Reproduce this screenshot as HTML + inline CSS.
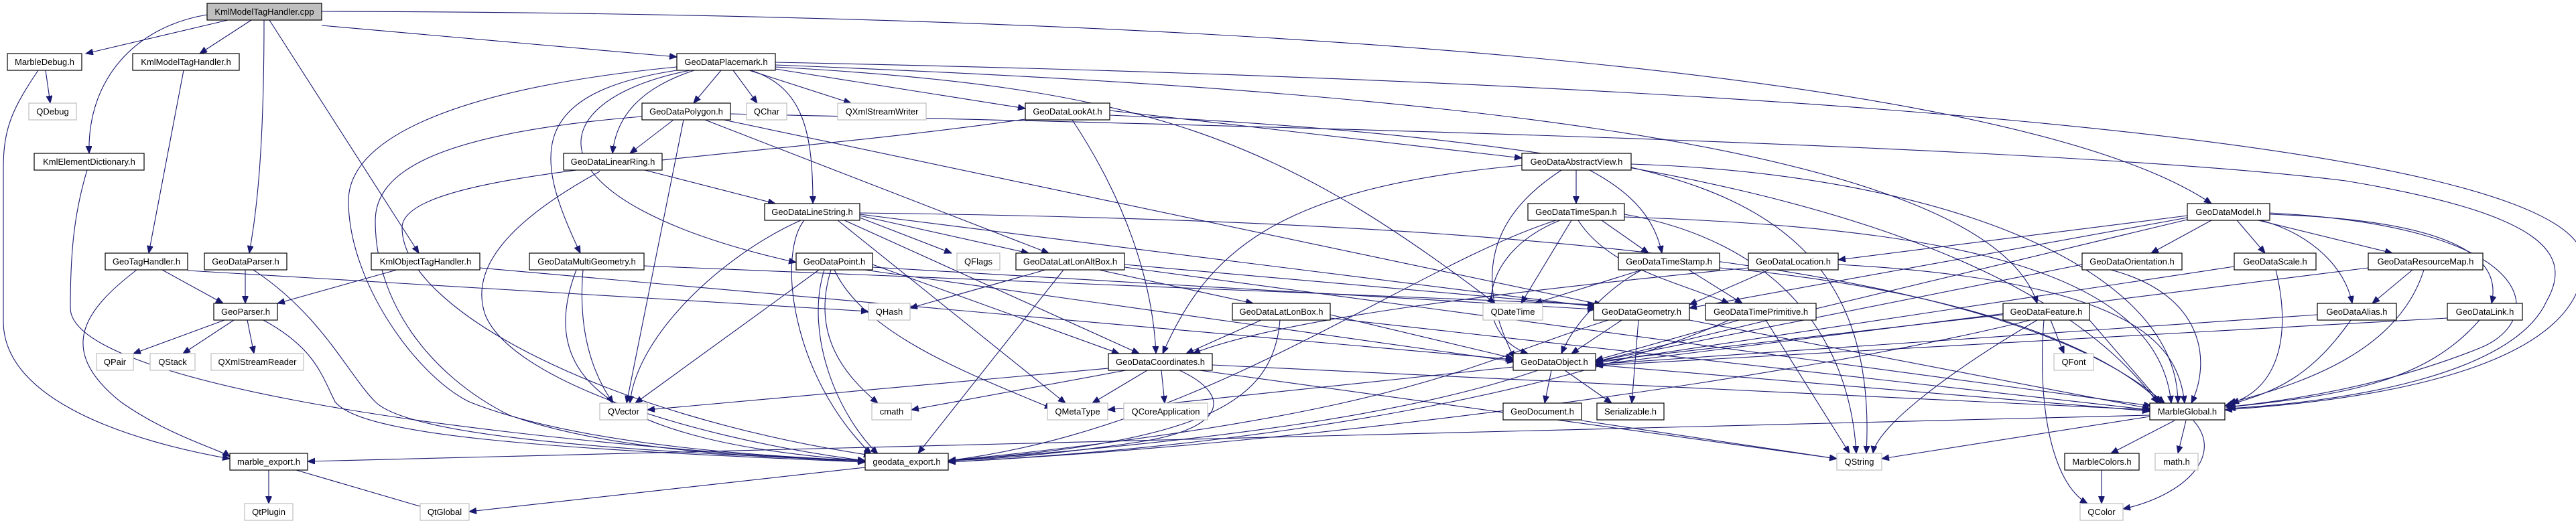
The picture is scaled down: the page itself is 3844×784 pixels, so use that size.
<!DOCTYPE html>
<html><head><meta charset="utf-8"><style>
html,body{margin:0;padding:0;background:#fff;}
svg{display:block;}
text{font-family:"Liberation Sans",sans-serif;font-size:13px;fill:#000;text-anchor:middle;}
.e{fill:none;stroke:#191970;stroke-width:1.1;marker-end:url(#a);}
.n{fill:#fff;stroke:#000;stroke-width:1.2;}
.g{fill:#fff;stroke:#bfbfbf;stroke-width:1.2;}
</style></head><body>
<svg width="3844" height="784" viewBox="0 0 3844 784" xmlns="http://www.w3.org/2000/svg">
<defs><marker id="a" markerUnits="userSpaceOnUse" markerWidth="12" markerHeight="10" refX="11" refY="4.5" orient="auto"><path d="M0,0 L11,4.5 L0,9 z" fill="#191970" stroke="#191970"/></marker></defs>
<g>
<path class="e" d="M340,30 L128,80"/>
<path class="e" d="M309,22 C200,40 130,120 133,229"/>
<path class="e" d="M375,30 L298,80"/>
<path class="e" d="M394,30 C394,250 380,330 372,378"/>
<path class="e" d="M402,30 L625,378"/>
<path class="e" d="M480,38 L1010,85"/>
<path class="e" d="M480,17 C1800,20 3000,100 3300,304"/>
<path class="e" d="M68,105 L75,154"/>
<path class="e" d="M57,105 C20,160 5,190 5,250 L5,480 C5,600 200,660 343,685"/>
<path class="e" d="M274,105 L222,378"/>
<path class="e" d="M130,254 C110,320 105,380 105,460 C105,560 600,650 1291,690"/>
<path class="e" d="M204,403 C130,460 80,520 180,600 C250,650 330,672 343,682"/>
<path class="e" d="M242,403 L333,453"/>
<path class="e" d="M280,404 L1296,465"/>
<path class="e" d="M366,403 L366,453"/>
<path class="e" d="M378,403 C480,470 520,560 560,600 C600,640 800,670 1291,688"/>
<path class="e" d="M592,403 L414,453"/>
<path class="e" d="M716,400 L2258,537"/>
<path class="e" d="M335,478 L199,528"/>
<path class="e" d="M349,478 L273,528"/>
<path class="e" d="M369,478 L379,528"/>
<path class="e" d="M393,478 C470,520 480,560 500,600 C540,650 800,670 1291,690"/>
<path class="e" d="M401,702 L401,752"/>
<path class="e" d="M442,702 L640,760"/>
<path class="e" d="M1291,698 L700,764"/>
<path class="e" d="M3208,620 L459,689"/>
<path class="e" d="M1076,105 L1035,154"/>
<path class="e" d="M1094,105 L1130,154"/>
<path class="e" d="M1118,105 L1270,154"/>
<path class="e" d="M1157,103 L1530,162"/>
<path class="e" d="M1120,105 C1200,130 1213,200 1213,304"/>
<path class="e" d="M1036,105 C960,130 920,170 914,229"/>
<path class="e" d="M1010,105 C780,140 800,240 866,378"/>
<path class="e" d="M1030,105 C800,150 780,300 1188,392"/>
<path class="e" d="M1010,100 C700,130 520,200 520,300 C520,420 620,560 700,600 C850,660 1100,680 1291,688"/>
<path class="e" d="M1157,97 C2000,130 2960,200 3040,453"/>
<path class="e" d="M1157,93 C2500,120 3855,200 3855,390 C3855,560 3500,600 3320,612"/>
<path class="e" d="M1157,100 C1700,130 1900,200 2231,453"/>
<path class="e" d="M1005,179 L940,229"/>
<path class="e" d="M1020,179 L935,602"/>
<path class="e" d="M958,174 C640,200 560,260 560,330 C560,450 640,560 760,620 C900,670 1100,682 1291,688"/>
<path class="e" d="M1052,179 L1565,378"/>
<path class="e" d="M1080,179 L2390,455"/>
<path class="e" d="M1090,170 C2000,190 3100,220 3500,270 C3800,320 3840,380 3800,450 C3750,560 3500,600 3325,610"/>
<path class="e" d="M962,254 L1157,304"/>
<path class="e" d="M895,256 C760,330 700,400 724,470 C760,560 1000,650 1291,688"/>
<path class="e" d="M1195,329 C1080,380 950,500 940,602"/>
<path class="e" d="M1200,329 C1160,380 1180,560 1300,678"/>
<path class="e" d="M1283,325 L1420,378"/>
<path class="e" d="M1283,322 L1535,378"/>
<path class="e" d="M1250,329 L1590,602"/>
<path class="e" d="M1260,329 L1700,528"/>
<path class="e" d="M1283,320 L2380,458"/>
<path class="e" d="M1283,318 C2300,330 3000,400 3230,602"/>
<path class="e" d="M1222,403 L948,602"/>
<path class="e" d="M1230,403 C1200,500 1250,620 1310,678"/>
<path class="e" d="M1240,403 C1210,500 1260,560 1310,602"/>
<path class="e" d="M1245,403 C1290,500 1450,560 1570,610"/>
<path class="e" d="M1302,395 L1670,528"/>
<path class="e" d="M1302,399 L2380,462"/>
<path class="e" d="M1290,403 L2260,540"/>
<path class="e" d="M870,403 C860,520 900,580 915,602"/>
<path class="e" d="M860,403 C800,560 900,660 1291,688"/>
<path class="e" d="M961,397 L2380,455"/>
<path class="e" d="M1560,403 L1358,460"/>
<path class="e" d="M1587,403 L1370,677"/>
<path class="e" d="M1640,403 L1870,453"/>
<path class="e" d="M1678,395 L2380,457"/>
<path class="e" d="M1678,399 L3210,606"/>
<path class="e" d="M1600,179 C1680,300 1720,420 1725,528"/>
<path class="e" d="M1656,165 L2271,236"/>
<path class="e" d="M1530,178 C1100,240 600,250 600,340 C600,460 900,620 1300,680"/>
<path class="e" d="M1656,172 C2300,200 3000,300 3220,602"/>
<path class="e" d="M2352,254 L2352,304"/>
<path class="e" d="M2372,254 C2440,290 2470,330 2480,378"/>
<path class="e" d="M2330,254 C2260,300 2180,380 2260,535"/>
<path class="e" d="M2271,247 C1900,280 1800,380 1735,528"/>
<path class="e" d="M2434,245 C2900,260 3250,400 3250,602"/>
<path class="e" d="M2434,250 C2650,300 2800,400 2785,677"/>
<path class="e" d="M2390,329 L2460,378"/>
<path class="e" d="M2345,329 L2270,453"/>
<path class="e" d="M2355,329 C2400,400 2500,420 2580,453"/>
<path class="e" d="M2328,329 C2200,380 2200,500 2280,528"/>
<path class="e" d="M2322,329 C2100,400 1800,640 1415,688"/>
<path class="e" d="M2424,320 C2650,360 2760,500 2770,677"/>
<path class="e" d="M2424,324 C2900,340 3220,400 3240,602"/>
<path class="e" d="M2450,403 L2290,453"/>
<path class="e" d="M2520,403 L2600,453"/>
<path class="e" d="M2450,403 C2400,430 2350,480 2330,528"/>
<path class="e" d="M2566,400 C2800,420 3100,480 3225,602"/>
<path class="e" d="M2420,478 L2345,528"/>
<path class="e" d="M2445,478 L2435,602"/>
<path class="e" d="M2400,478 C2200,540 2100,620 1415,688"/>
<path class="e" d="M2521,478 L3208,610"/>
<path class="e" d="M2640,403 L2521,455"/>
<path class="e" d="M2609,400 C2200,440 1900,480 1780,528"/>
<path class="e" d="M2743,395 C3200,420 3250,520 3260,602"/>
<path class="e" d="M2595,478 L2381,538"/>
<path class="e" d="M2635,478 L2760,677"/>
<path class="e" d="M2580,478 C2400,560 2000,660 1415,690"/>
<path class="e" d="M2315,553 L2305,602"/>
<path class="e" d="M2335,553 L2405,602"/>
<path class="e" d="M2295,553 C2100,620 1800,660 1415,688"/>
<path class="e" d="M2258,548 L1653,612"/>
<path class="e" d="M2381,545 L3208,614"/>
<path class="e" d="M2360,628 L2741,685"/>
<path class="e" d="M1654,550 L966,612"/>
<path class="e" d="M1680,553 L1360,612"/>
<path class="e" d="M1712,553 L1630,602"/>
<path class="e" d="M1733,553 L1738,602"/>
<path class="e" d="M1760,553 C1840,590 1830,640 1700,660 C1600,675 1500,685 1415,688"/>
<path class="e" d="M1809,545 L3208,612"/>
<path class="e" d="M1790,553 L2741,685"/>
<path class="e" d="M1882,478 L1770,528"/>
<path class="e" d="M1910,478 C1900,600 1800,660 1415,688"/>
<path class="e" d="M1985,470 L2258,535"/>
<path class="e" d="M1985,475 L3208,612"/>
<path class="e" d="M3060,478 L3080,528"/>
<path class="e" d="M3050,478 C3040,600 3060,720 3115,752"/>
<path class="e" d="M3040,478 C2900,560 2800,640 2795,677"/>
<path class="e" d="M3030,478 C2700,560 2000,660 1415,690"/>
<path class="e" d="M2989,470 L2381,540"/>
<path class="e" d="M3118,478 L3225,602"/>
<path class="e" d="M3300,329 L3210,378"/>
<path class="e" d="M3338,329 L3380,378"/>
<path class="e" d="M3370,329 L3570,378"/>
<path class="e" d="M3374,329 C3450,350 3500,400 3510,453"/>
<path class="e" d="M3387,320 C3700,330 3730,400 3718,453"/>
<path class="e" d="M3387,318 C3800,340 3800,480 3700,520 C3550,580 3400,600 3322,608"/>
<path class="e" d="M3264,322 L2743,388"/>
<path class="e" d="M3264,325 L2521,460"/>
<path class="e" d="M3264,328 L2381,540"/>
<path class="e" d="M3107,395 L2381,540"/>
<path class="e" d="M3150,403 C3290,440 3300,540 3270,602"/>
<path class="e" d="M3334,398 L2381,542"/>
<path class="e" d="M3396,403 C3420,500 3400,580 3330,602"/>
<path class="e" d="M3600,403 L3540,453"/>
<path class="e" d="M3617,403 C3580,520 3450,570 3325,602"/>
<path class="e" d="M3534,400 L2381,545"/>
<path class="e" d="M3508,478 C3450,560 3400,585 3320,606"/>
<path class="e" d="M3458,470 L2381,544"/>
<path class="e" d="M3700,478 C3620,570 3500,590 3325,608"/>
<path class="e" d="M3652,475 L2381,546"/>
<path class="e" d="M3262,628 L3250,677"/>
<path class="e" d="M3245,628 L3150,677"/>
<path class="e" d="M3273,628 C3320,680 3260,740 3168,760"/>
<path class="e" d="M3208,622 L2808,685"/>
<path class="e" d="M3136,702 L3136,752"/>
</g>
<g>
<rect x="309" y="5" width="171" height="25" fill="#bfbfbf" stroke="#000" stroke-width="1.2"/><text x="394.5" y="22">KmlModelTagHandler.cpp</text>
<rect class="n" x="11" y="80" width="111" height="25"/><text x="66.5" y="97">MarbleDebug.h</text>
<rect class="n" x="198" y="80" width="159" height="25"/><text x="277.5" y="97">KmlModelTagHandler.h</text>
<rect class="n" x="1010" y="80" width="147" height="25"/><text x="1083.5" y="97">GeoDataPlacemark.h</text>
<rect class="g" x="43" y="154" width="71" height="25"/><text x="78.5" y="171">QDebug</text>
<rect class="n" x="958" y="154" width="132" height="25"/><text x="1024" y="171">GeoDataPolygon.h</text>
<rect class="g" x="1114" y="154" width="60" height="25"/><text x="1144" y="171">QChar</text>
<rect class="g" x="1250" y="154" width="132" height="25"/><text x="1316" y="171">QXmlStreamWriter</text>
<rect class="n" x="1530" y="154" width="126" height="25"/><text x="1593" y="171">GeoDataLookAt.h</text>
<rect class="n" x="51" y="229" width="164" height="25"/><text x="133" y="246">KmlElementDictionary.h</text>
<rect class="n" x="841" y="229" width="147" height="25"/><text x="914.5" y="246">GeoDataLinearRing.h</text>
<rect class="n" x="2271" y="229" width="163" height="25"/><text x="2352.5" y="246">GeoDataAbstractView.h</text>
<rect class="n" x="1141" y="304" width="142" height="25"/><text x="1212" y="321">GeoDataLineString.h</text>
<rect class="n" x="2280" y="304" width="144" height="25"/><text x="2352" y="321">GeoDataTimeSpan.h</text>
<rect class="n" x="3264" y="304" width="123" height="25"/><text x="3325.5" y="321">GeoDataModel.h</text>
<rect class="n" x="157" y="378" width="123" height="25"/><text x="218.5" y="395">GeoTagHandler.h</text>
<rect class="n" x="305" y="378" width="123" height="25"/><text x="366.5" y="395">GeoDataParser.h</text>
<rect class="n" x="554" y="378" width="162" height="25"/><text x="635" y="395">KmlObjectTagHandler.h</text>
<rect class="n" x="790" y="378" width="171" height="25"/><text x="875.5" y="395">GeoDataMultiGeometry.h</text>
<rect class="n" x="1188" y="378" width="114" height="25"/><text x="1245" y="395">GeoDataPoint.h</text>
<rect class="g" x="1428" y="378" width="64" height="25"/><text x="1460" y="395">QFlags</text>
<rect class="n" x="1516" y="378" width="162" height="25"/><text x="1597" y="395">GeoDataLatLonAltBox.h</text>
<rect class="n" x="2415" y="378" width="151" height="25"/><text x="2490.5" y="395">GeoDataTimeStamp.h</text>
<rect class="n" x="2609" y="378" width="134" height="25"/><text x="2676" y="395">GeoDataLocation.h</text>
<rect class="n" x="3107" y="378" width="149" height="25"/><text x="3181.5" y="395">GeoDataOrientation.h</text>
<rect class="n" x="3334" y="378" width="122" height="25"/><text x="3395" y="395">GeoDataScale.h</text>
<rect class="n" x="3534" y="378" width="171" height="25"/><text x="3619.5" y="395">GeoDataResourceMap.h</text>
<rect class="n" x="319" y="453" width="95" height="25"/><text x="366.5" y="470">GeoParser.h</text>
<rect class="g" x="1296" y="453" width="62" height="25"/><text x="1327" y="470">QHash</text>
<rect class="n" x="1839" y="453" width="146" height="25"/><text x="1912" y="470">GeoDataLatLonBox.h</text>
<rect class="g" x="2213" y="453" width="89" height="25"/><text x="2257.5" y="470">QDateTime</text>
<rect class="n" x="2378" y="453" width="143" height="25"/><text x="2449.5" y="470">GeoDataGeometry.h</text>
<rect class="n" x="2545" y="453" width="165" height="25"/><text x="2627.5" y="470">GeoDataTimePrimitive.h</text>
<rect class="n" x="2989" y="453" width="129" height="25"/><text x="3053.5" y="470">GeoDataFeature.h</text>
<rect class="n" x="3458" y="453" width="118" height="25"/><text x="3517" y="470">GeoDataAlias.h</text>
<rect class="n" x="3652" y="453" width="112" height="25"/><text x="3708" y="470">GeoDataLink.h</text>
<rect class="g" x="144" y="528" width="55" height="25"/><text x="171.5" y="545">QPair</text>
<rect class="g" x="224" y="528" width="67" height="25"/><text x="257.5" y="545">QStack</text>
<rect class="g" x="315" y="528" width="138" height="25"/><text x="384" y="545">QXmlStreamReader</text>
<rect class="n" x="1654" y="528" width="155" height="25"/><text x="1731.5" y="545">GeoDataCoordinates.h</text>
<rect class="n" x="2258" y="528" width="123" height="25"/><text x="2319.5" y="545">GeoDataObject.h</text>
<rect class="g" x="3065" y="528" width="59" height="25"/><text x="3094.5" y="545">QFont</text>
<rect class="g" x="895" y="602" width="71" height="25"/><text x="930.5" y="619">QVector</text>
<rect class="g" x="1301" y="602" width="59" height="25"/><text x="1330.5" y="619">cmath</text>
<rect class="g" x="1563" y="602" width="90" height="25"/><text x="1608" y="619">QMetaType</text>
<rect class="g" x="1677" y="602" width="125" height="25"/><text x="1739.5" y="619">QCoreApplication</text>
<rect class="n" x="2243" y="602" width="117" height="25"/><text x="2301.5" y="619">GeoDocument.h</text>
<rect class="n" x="2383" y="602" width="100" height="25"/><text x="2433" y="619">Serializable.h</text>
<rect class="n" x="3208" y="602" width="112" height="25"/><text x="3264" y="619">MarbleGlobal.h</text>
<rect class="n" x="343" y="677" width="116" height="25"/><text x="401" y="694">marble_export.h</text>
<rect class="n" x="1291" y="677" width="124" height="25"/><text x="1353" y="694">geodata_export.h</text>
<rect class="g" x="2741" y="677" width="67" height="25"/><text x="2774.5" y="694">QString</text>
<rect class="n" x="3081" y="677" width="111" height="25"/><text x="3136.5" y="694">MarbleColors.h</text>
<rect class="g" x="3216" y="677" width="64" height="25"/><text x="3248" y="694">math.h</text>
<rect class="g" x="365" y="752" width="72" height="25"/><text x="401" y="769">QtPlugin</text>
<rect class="g" x="627" y="752" width="73" height="25"/><text x="663.5" y="769">QtGlobal</text>
<rect class="g" x="3104" y="752" width="64" height="25"/><text x="3136" y="769">QColor</text>
</g>
</svg>
</body></html>
